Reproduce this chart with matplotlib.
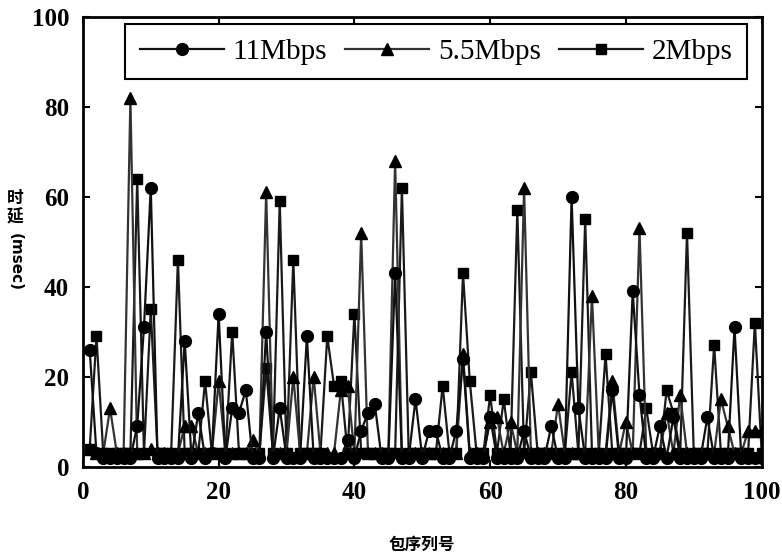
import numpy as np
import matplotlib.pyplot as plt

# --- data (packet index 1..100, delay in msec) ---
seq = list(range(1, 101))

delay_11 = [26, 3, 2, 2, 2, 2, 2, 9, 31, 62,
            2, 2, 2, 2, 28, 2, 12, 2, 3, 34,
            2, 13, 12, 17, 2, 2, 30, 2, 13, 2,
            2, 2, 29, 2, 2, 2, 2, 2, 6, 2,
            8, 12, 14, 2, 2, 43, 2, 2, 15, 2,
            8, 8, 2, 2, 8, 24, 2, 2, 2, 11,
            2, 2, 2, 2, 8, 2, 2, 2, 9, 2,
            2, 60, 13, 2, 2, 2, 2, 17, 2, 2,
            39, 16, 2, 2, 9, 2, 11, 2, 2, 2,
            2, 11, 2, 2, 2, 31, 2, 2, 2, 2]

delay_55 = [4, 3, 3, 13, 3, 3, 82, 3, 3, 4,
            3, 3, 3, 3, 9, 9, 3, 3, 3, 19,
            3, 3, 3, 3, 6, 3, 61, 3, 3, 3,
            20, 3, 3, 20, 3, 3, 3, 17, 18, 3,
            52, 3, 3, 3, 3, 68, 3, 3, 3, 3,
            3, 3, 3, 3, 3, 25, 3, 3, 3, 10,
            11, 3, 10, 3, 62, 3, 3, 3, 3, 14,
            3, 3, 3, 3, 38, 3, 3, 19, 3, 10,
            3, 53, 3, 3, 3, 12, 3, 16, 3, 3,
            3, 3, 3, 15, 9, 3, 3, 8, 8, 8]

delay_2 = [4, 29, 3, 3, 3, 3, 3, 64, 3, 35,
           3, 3, 3, 46, 3, 3, 3, 19, 3, 3,
           3, 30, 3, 3, 3, 3, 22, 3, 59, 3,
           46, 3, 3, 3, 3, 29, 18, 19, 3, 34,
           3, 3, 3, 3, 3, 3, 62, 3, 3, 3,
           3, 3, 18, 3, 3, 43, 19, 3, 3, 16,
           3, 15, 3, 57, 3, 21, 3, 3, 3, 3,
           3, 21, 3, 55, 3, 3, 25, 3, 3, 3,
           3, 3, 13, 3, 3, 17, 12, 3, 52, 3,
           3, 3, 27, 3, 3, 3, 3, 3, 32, 3]

labels = ["11Mbps", "5.5Mbps", "2Mbps"]

fig = plt.figure(figsize=(7.82, 5.57), dpi=100)
ax = fig.add_axes([0.106, 0.162, 0.868, 0.808])

ax.plot(seq, delay_2, color="#1a1a1a", lw=1.6, marker="s", ms=7, mfc="black", mec="black", label=labels[2], zorder=2)
ax.plot(seq, delay_55, color="#333333", lw=1.6, marker="^", ms=8, mfc="black", mec="black", label=labels[1], zorder=3)
ax.plot(seq, delay_11, color="#111111", lw=1.6, marker="o", ms=8.5, mfc="black", mec="black", label=labels[0], zorder=4)

ax.set_xlim(0, 100)
ax.set_ylim(0, 100)
ax.set_xticks(np.arange(0, 101, 20))
ax.set_yticks(np.arange(0, 101, 20))
ax.tick_params(direction="in", length=5, width=1.5, top=True, right=True, labelsize=18, pad=10)
for lab in ax.get_xticklabels() + ax.get_yticklabels():
    lab.set_fontfamily("Liberation Serif")
    lab.set_fontweight("bold")
for sp in ax.spines.values():
    sp.set_linewidth(2)

# legend in the same order as the reference
h, l = ax.get_legend_handles_labels()
order = [2, 1, 0]
leg = ax.legend([h[i] for i in order], [l[i] for i in order], loc="upper right", ncol=3,
                prop={"family": "Liberation Serif", "size": 21}, handlelength=2.9,
                columnspacing=0.6, handletextpad=0.3, borderaxespad=0.0, borderpad=0.5,
                fancybox=False, edgecolor="black", framealpha=1, markerscale=1.0,
                bbox_to_anchor=(0.979, 0.984))
leg.get_frame().set_linewidth(1.5)

# y label: upright CJK characters, then rotated (msec)
fig.text(0.019, 0.645, "时", fontsize=12, fontweight="bold", family="Noto Sans CJK SC", ha="center", va="center")
fig.text(0.019, 0.610, "延", fontsize=12, fontweight="bold", family="Noto Sans CJK SC", ha="center", va="center")
fig.text(0.019, 0.530, "(msec)", fontsize=11, fontweight="bold", family="DejaVu Sans", rotation=-90, ha="center", va="center")

fig.text(0.54, 0.022, "包序列号", fontsize=12, fontweight="bold", family="Noto Sans CJK SC", ha="center", va="center")

fig.savefig("out.png", dpi=100)
